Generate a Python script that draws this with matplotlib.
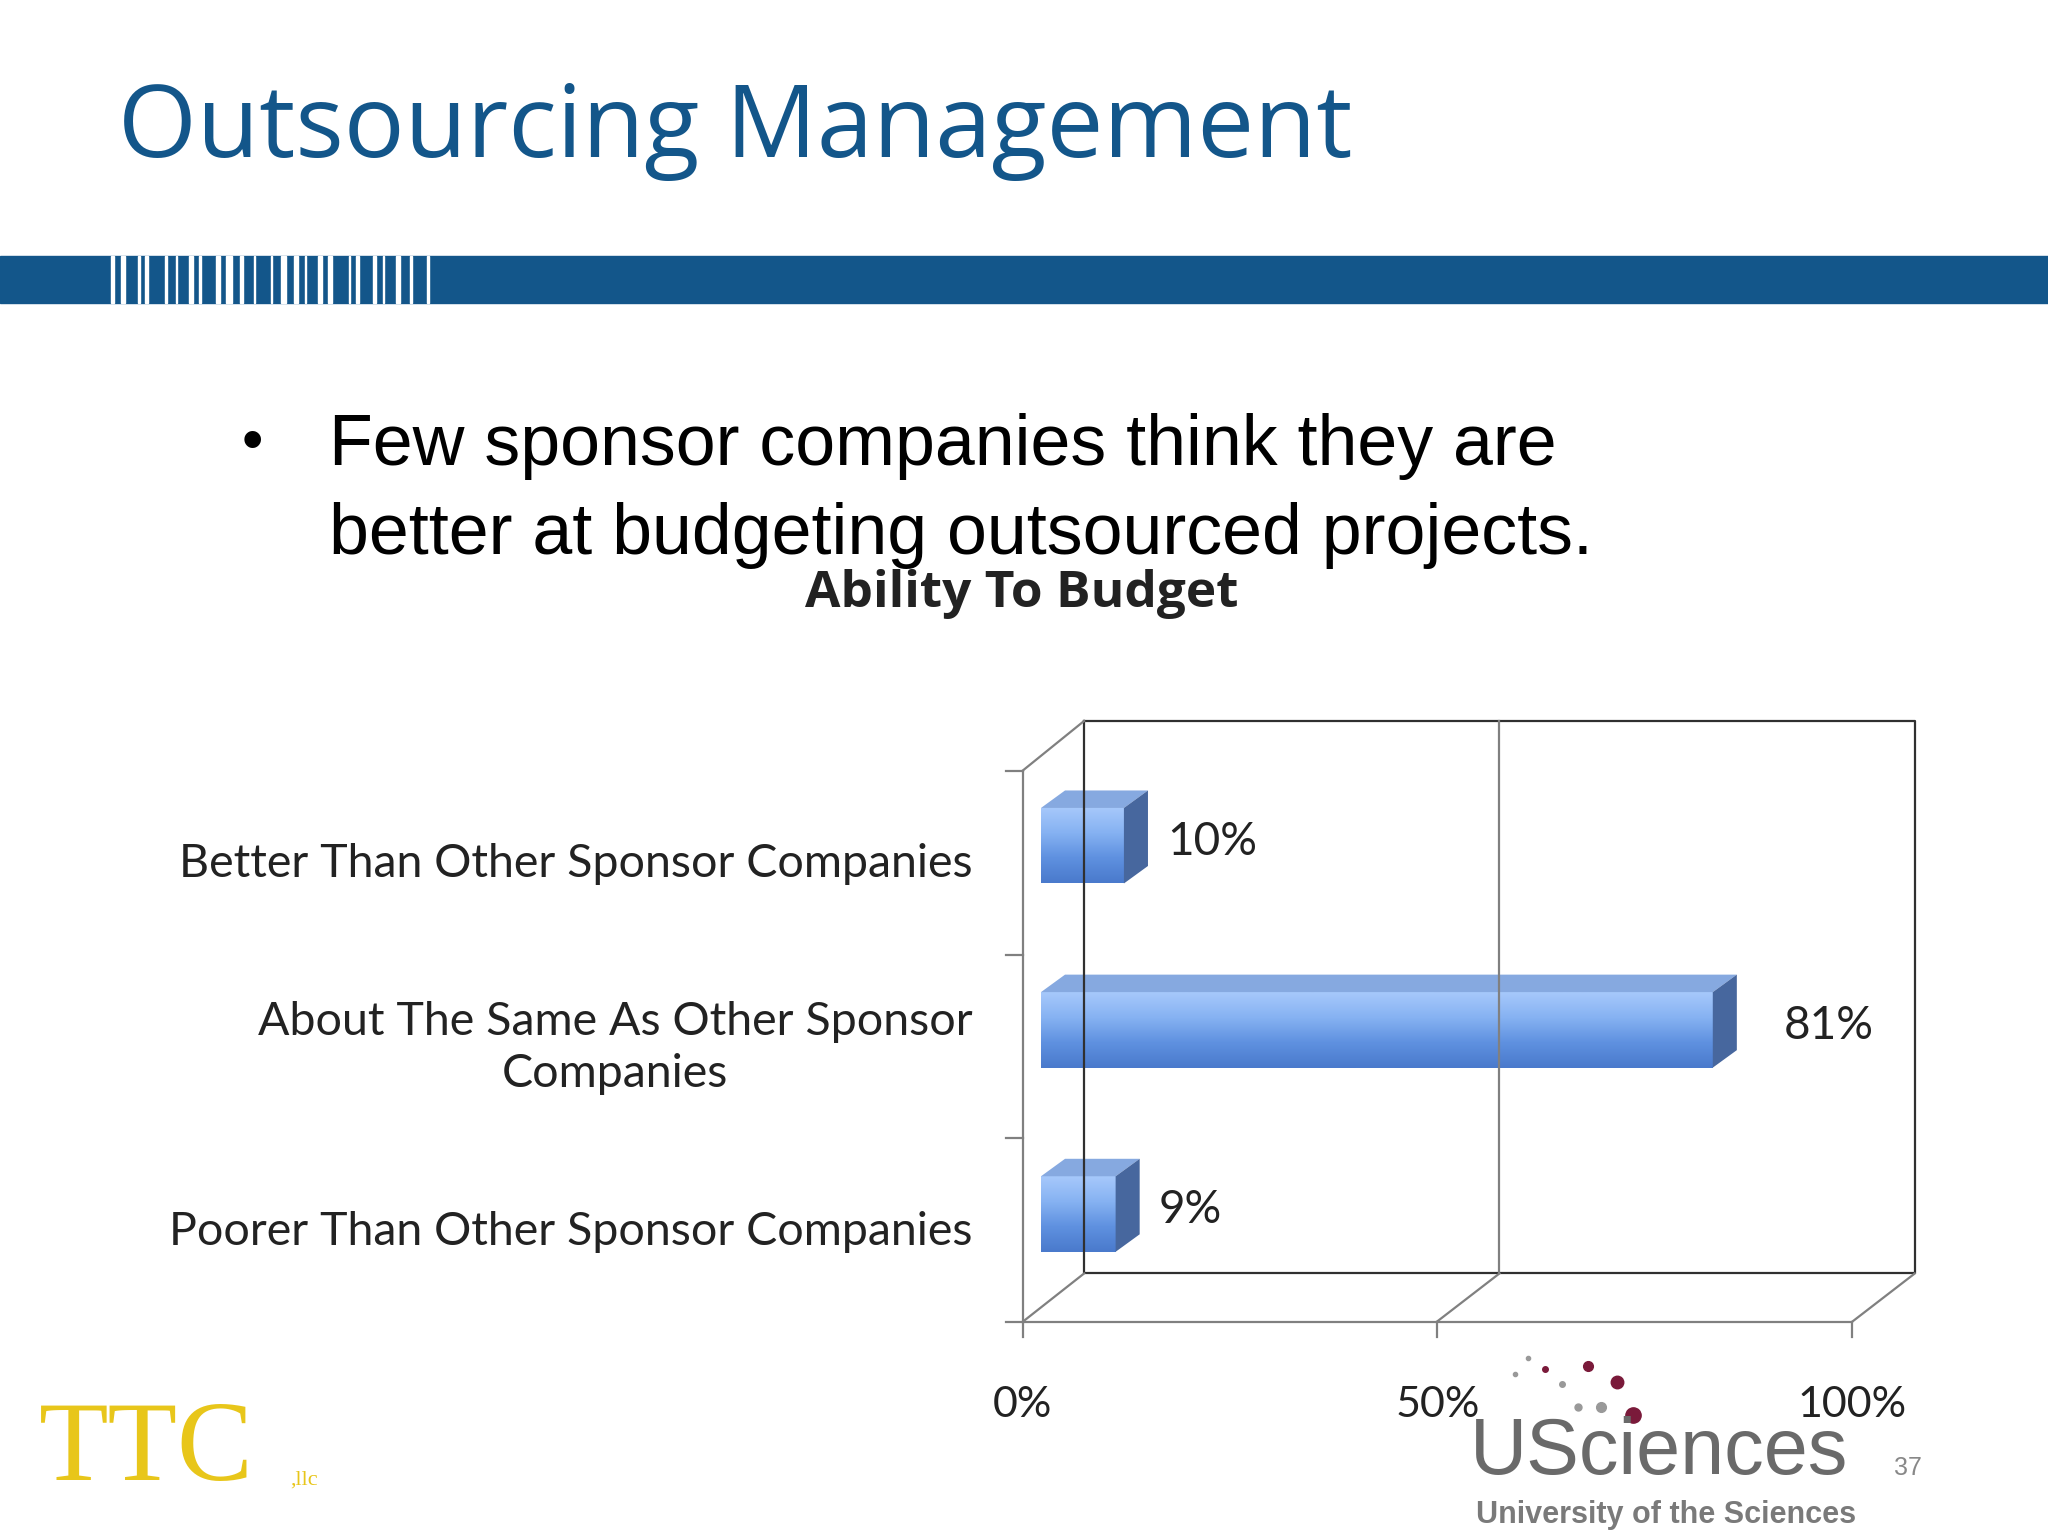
import matplotlib
matplotlib.use('Agg')
import matplotlib.pyplot as plt
import numpy as np
from matplotlib.lines import Line2D
from matplotlib.patches import Rectangle, Polygon

categories = ['Better Than Other Sponsor Companies',
              'About The Same As Other Sponsor\nCompanies',
              'Poorer Than Other Sponsor Companies']
values = [10, 81, 9]
tick_vals = [0, 50, 100]
tick_labels = ['0%', '50%', '100%']

W, H = 1568.0, 1176.0
def fx(x): return x / W
def fy(y): return 1 - y / H

fig = plt.figure(figsize=(20.48, 15.36), dpi=100)
fig.patch.set_facecolor('white')
BLUE = '#13568a'

def fline(xs, ys, color='#808080', lw=1.6):
    fig.add_artist(Line2D([fx(x) for x in xs], [fy(y) for y in ys], color=color, lw=lw))

# header
fig.text(fx(90), fy(100), 'Outsourcing Management', fontsize=73, color=BLUE,
         family='Open Sans', va='center', ha='left')
fig.add_artist(Rectangle((0, fy(232)), 1, (232 - 196) / H, color=BLUE, transform=fig.transFigure))
pattern = [2, 1, 2, 3, 1, 1, 2, 4, 1, 2, 1, 3, 2, 1, 1, 4, 2, 1, 3, 1, 2, 2, 1, 4, 1, 2, 3, 1, 2, 1, 1, 3, 2, 1, 2, 4, 1, 1, 2, 3,
           2, 1, 1, 3, 2, 2, 1, 4, 1, 2]
x = 85
for i, w in enumerate(pattern):
    if i % 2 == 0:
        fig.add_artist(Rectangle((fx(x), fy(232)), w / W * 1.3, 36 / H, color='white', transform=fig.transFigure))
    x += w * 2.6
    if x > 338:
        break

# bullet
fig.text(fx(185), fy(340), '•', fontsize=44, family='Liberation Sans', va='center')
fig.text(fx(252), fy(342), 'Few sponsor companies think they are', fontsize=51.7,
         family='Liberation Sans', va='center')
fig.text(fx(252), fy(410), 'better at budgeting outsourced projects.', fontsize=51.7,
         family='Liberation Sans', va='center')
fig.text(fx(782), fy(455), 'Ability To Budget', fontsize=37, weight='bold',
         family='Open Sans', va='center', ha='center', color='#222222')

# 3D frame decorations
fline([830, 1466, 1466, 830, 830], [552, 552, 975, 975, 552], color='#303030')
fline([1148, 1148], [552, 975])
fline([783, 830], [1012, 975]); fline([1100, 1148], [1012, 975]); fline([1418, 1466], [1012, 975])
fline([783, 830], [590, 552])
fline([783, 1418], [1012, 1012]); fline([783, 783], [590, 1012])
for yy in [590, 731, 871, 1012]:
    fline([770, 783], [yy, yy])

# bars
ax = fig.add_axes([fx(797), fy(1000), (635) / W, (1000 - 577) / H])
ax.axis('off')
ys = list(range(len(values)))
h = 0.41
dx, dy = 2.9, 0.095
grad = np.linspace(0, 1, 64).reshape(-1, 1)
cmap = matplotlib.colors.LinearSegmentedColormap.from_list('bar', ['#a6c8fb', '#86b2f2', '#5f91e0', '#4a7acc'])
for yv, v in zip(ys, values):
    rect = Rectangle((0, yv - h / 2), v, h, color='none')
    ax.add_patch(rect)
    im = ax.imshow(grad, extent=(0, v, yv + h / 2, yv - h / 2), cmap=cmap, aspect='auto', zorder=2)
    im.set_clip_path(rect)
    ax.add_patch(Polygon([(0, yv - h / 2), (v, yv - h / 2), (v + dx, yv - h / 2 - dy), (dx, yv - h / 2 - dy)],
                         closed=True, color='#86a9e0', ec='none', clip_on=False, zorder=3))
    ax.add_patch(Polygon([(v, yv - h / 2), (v + dx, yv - h / 2 - dy), (v + dx, yv + h / 2 - dy), (v, yv + h / 2)],
                         closed=True, color='#47679e', ec='none', clip_on=False, zorder=3))
    ax.text(v + 8.5 if v > 50 else v + 5.2, yv - 0.02, f'{v}%',
            fontsize=33, family='Lato', va='center', ha='left', color='#222222')
    ax.text(-8.3, yv + 0.1, categories[yv], fontsize=33.5, family='Lato', ha='right', va='center',
            color='#222222', linespacing=1.3, multialignment='center', clip_on=False)
ax.set_xlim(0, 100)
ax.set_ylim(2.5, -0.5)

for tv, tl in zip(tick_vals, tick_labels):
    px = 783 + tv / 100 * 635
    fline([px, px], [1012, 1024])
    fig.text(fx(px), fy(1076), tl, fontsize=31, family='Lato', ha='center', va='center', color='#222222')

# logos
fig.text(fx(30), fy(1112), 'TTC', fontsize=82, family='Liberation Serif', color='#e8c61a', va='center')
fig.text(fx(222), fy(1133), ',llc', fontsize=16, family='Liberation Serif', color='#e8c61a', va='center')
fig.text(fx(1125), fy(1113), 'USciences', fontsize=57, family='Liberation Sans', color='#6a6a6a', va='center')
fig.text(fx(1130), fy(1160), 'University of the Sciences', fontsize=22, weight='bold',
         family='Liberation Sans', color='#7a7a7a', va='center')
fig.text(fx(1450), fy(1124), '37', fontsize=18, family='Liberation Sans', color='#888888', va='center')
for (x0, y0, s, c) in [(1250, 1083, 11, '#7a1a3a'), (1238, 1058, 9, '#7a1a3a'), (1216, 1046, 7, '#7a1a3a'),
                       (1226, 1077, 7, '#999999'), (1208, 1077, 5, '#999999'), (1196, 1060, 4, '#999999'),
                       (1183, 1048, 4, '#7a1a3a'), (1170, 1040, 3, '#999999'), (1160, 1052, 3, '#999999')]:
    fig.add_artist(Line2D([fx(x0)], [fy(y0)], marker='o', ms=s, color=c, ls='none'))

plt.savefig('out.png', dpi=100)
